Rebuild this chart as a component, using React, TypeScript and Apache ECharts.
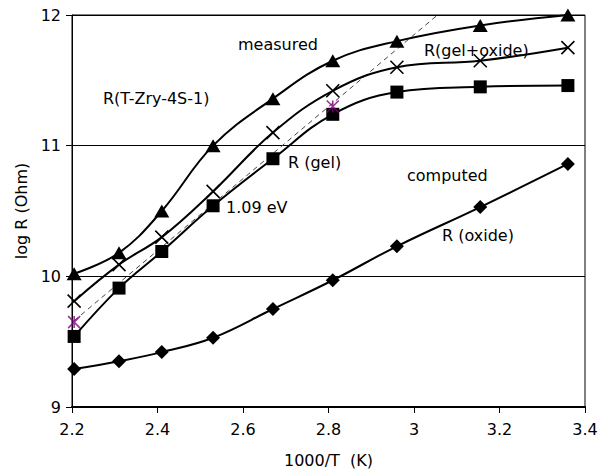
import React, { useEffect, useRef } from "react";
import * as echarts from "echarts";

const xValues = [2.205, 2.31, 2.41, 2.53, 2.67, 2.81, 2.96, 3.155, 3.36];
const measured = [10.02, 10.18, 10.5, 11.0, 11.36, 11.65, 11.8, 11.92, 12.0];
const gelOxide = [9.81, 10.09, 10.3, 10.65, 11.1, 11.42, 11.6, 11.65, 11.75];
const gel = [9.54, 9.91, 10.19, 10.54, 10.9, 11.24, 11.41, 11.45, 11.46];
const oxide = [9.29, 9.35, 9.42, 9.53, 9.75, 9.97, 10.23, 10.53, 10.86];
const fitPointsX = [2.205, 2.81];
const fitPointsY = [9.65, 11.3];
const fitLineX = [2.205, 3.055];
const fitLineY = [9.66, 12.0];

const annotations = [
  { text: "measured", x: 238, y: 45 },
  { text: "R(T-Zry-4S-1)", x: 103, y: 99 },
  { text: "R(gel+oxide)", x: 424, y: 51 },
  { text: "R (gel)", x: 288, y: 163 },
  { text: "1.09 eV", x: 226, y: 208 },
  { text: "computed", x: 407, y: 176 },
  { text: "R (oxide)", x: 442, y: 236 },
];

const FONT = "DejaVu Sans";

const zip = (xs: number[], ys: number[]) => xs.map((x, i) => [x, ys[i]]);

export default function App() {
  const ref = useRef<HTMLDivElement>(null);
  useEffect(() => {
    if (!ref.current) return;
    const chart = echarts.init(ref.current, null, { renderer: "svg" });
    const lineBase = {
      type: "line" as const,
      smooth: 0.4,
      lineStyle: { color: "#000", width: 2 },
      itemStyle: { color: "#000" },
      symbolKeepAspect: true,
      z: 3,
    };
    chart.setOption({
      animation: false,
      backgroundColor: "#fff",
      textStyle: { fontFamily: FONT },
      grid: {
        left: 72,
        right: 26,
        top: 15,
        bottom: 66,
        show: true,
        borderColor: "#000",
        borderWidth: 1,
      },
      xAxis: {
        type: "value",
        min: 2.2,
        max: 3.4,
        interval: 0.2,
        name: "1000/T  (K)",
        nameLocation: "middle",
        nameGap: 45,
        nameTextStyle: { fontSize: 16, color: "#000", fontFamily: FONT },
        axisLine: { lineStyle: { color: "#000", width: 2 } },
        axisTick: { show: true, length: 6, lineStyle: { color: "#000", width: 1 } },
        axisLabel: { fontSize: 16, color: "#000", margin: 14, fontFamily: FONT },
        splitLine: { show: false },
      },
      yAxis: {
        type: "value",
        min: 9,
        max: 12,
        interval: 1,
        name: "log R (Ohm)",
        nameLocation: "middle",
        nameGap: 40,
        nameTextStyle: { fontSize: 16, color: "#000", fontFamily: FONT },
        axisLine: { show: true, lineStyle: { color: "#000", width: 1 } },
        axisTick: { show: true, length: 6, lineStyle: { color: "#000", width: 1 } },
        axisLabel: { fontSize: 16, color: "#000", margin: 11, fontFamily: FONT },
        splitLine: { show: true, lineStyle: { color: "#000", width: 1 } },
      },
      graphic: annotations.map((a) => ({
        type: "text",
        left: a.x,
        top: a.y - 9,
        z: 10,
        style: { text: a.text, fontSize: 16, fill: "#000", fontFamily: FONT },
      })),
      series: [
        {
          type: "line",
          data: zip(fitLineX, fitLineY),
          symbol: "none",
          lineStyle: { color: "#444", width: 1, type: [5, 4] },
          z: 2,
        },
        {
          ...lineBase,
          name: "measured",
          data: zip(xValues, measured),
          symbol: "triangle",
          symbolSize: [15, 13],
        },
        {
          ...lineBase,
          name: "gel+oxide",
          data: zip(xValues, gelOxide),
          symbol: "path://M0,0L10,10M10,0L0,10",
          symbolSize: 13,
          itemStyle: { color: "#000", borderColor: "#000", borderWidth: 1.6 },
        },
        {
          ...lineBase,
          name: "gel",
          data: zip(xValues, gel),
          symbol: "rect",
          symbolSize: 13,
        },
        {
          ...lineBase,
          name: "oxide",
          data: zip(xValues, oxide),
          symbol: "diamond",
          symbolSize: 14,
        },
        {
          type: "scatter",
          name: "fit",
          data: zip(fitPointsX, fitPointsY),
          symbol: "path://M0,0L10,10M10,0L0,10M5,0L5,10",
          symbolSize: 12,
          itemStyle: { color: "#800080", borderColor: "#800080", borderWidth: 1.6 },
          z: 5,
        },
      ],
    });
    return () => chart.dispose();
  }, []);
  return (
    <div
      ref={ref}
      style={{ position: "fixed", left: 0, top: 0, width: 611, height: 473 }}
    />
  );
}
